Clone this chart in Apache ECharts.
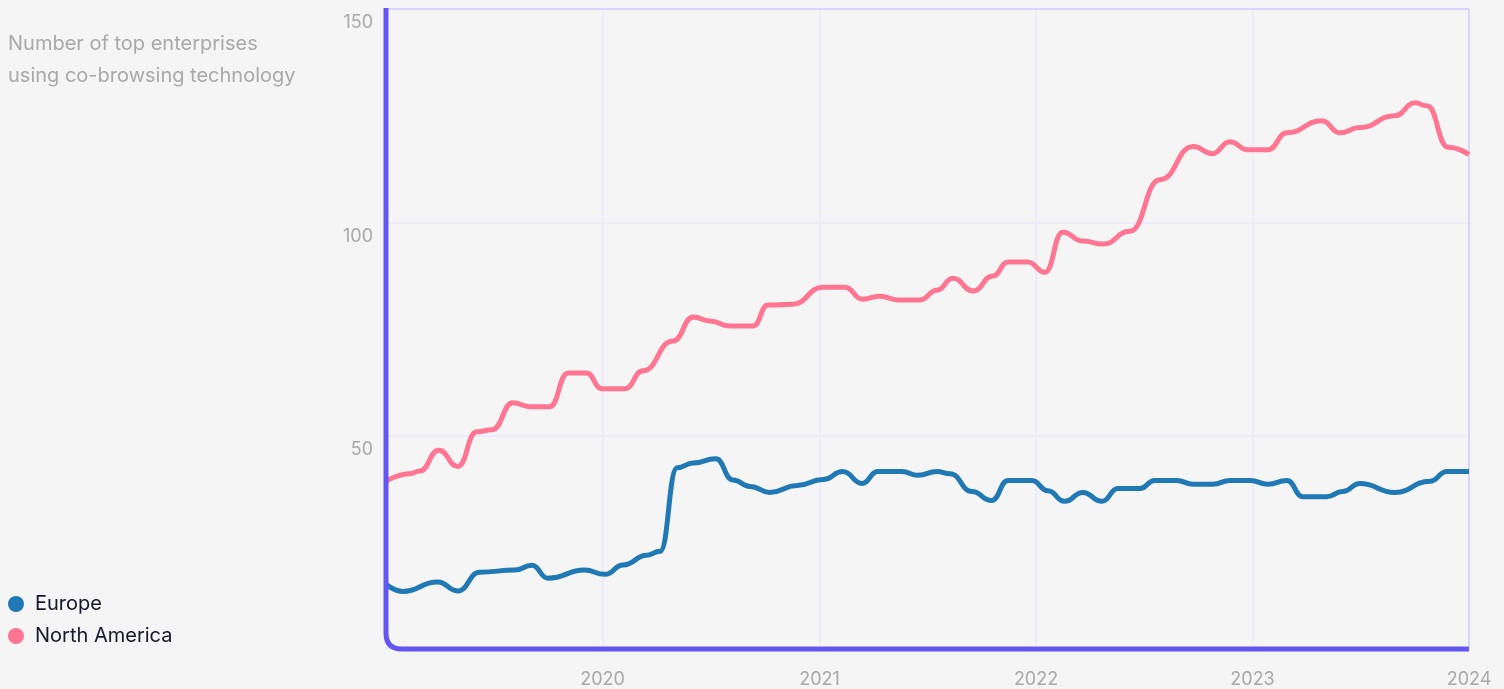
<!DOCTYPE html>
<html>
<head>
<meta charset="utf-8">
<script src="https://cdn.jsdelivr.net/npm/echarts@6/dist/echarts.min.js"></script>
<style>
  html, body { margin: 0; padding: 0; background: #f5f5f5; }
  #chart { width: 1504px; height: 689px; }
</style>
</head>
<body>
<div id="chart"></div>
<script>
// 数据：读图估计
const seriesNames = ['Europe', 'North America'];
const yTicks = [0, 50, 100, 150];

const europeDates = [
  '2019-01-01', '2019-01-29', '2019-03-29', '2019-05-02', '2019-06-08', '2019-08-06',
  '2019-09-04', '2019-10-01', '2019-12-02', '2020-01-05', '2020-02-05', '2020-03-16',
  '2020-04-07', '2020-05-06', '2020-06-02', '2020-07-10', '2020-08-08', '2020-09-06',
  '2020-10-09', '2020-11-24', '2021-01-07', '2021-02-09', '2021-03-14', '2021-04-09',
  '2021-05-20', '2021-06-16', '2021-07-18', '2021-08-09', '2021-09-15', '2021-10-18',
  '2021-11-15', '2021-12-25', '2022-01-21', '2022-02-18', '2022-03-21', '2022-04-22',
  '2022-05-19', '2022-06-25', '2022-07-20', '2022-08-26', '2022-09-23', '2022-10-26',
  '2022-11-24', '2022-12-28', '2023-01-27', '2023-02-28', '2023-03-27', '2023-05-06',
  '2023-06-02', '2023-07-01', '2023-08-29', '2023-10-27', '2023-11-25',
  '2024-01-01'
];
const europeValues = [
  15.2, 13.5, 15.7, 13.6, 18.0, 18.5,
  19.6, 16.6, 18.5, 17.5, 19.7, 22.0,
  22.9, 42.5, 43.6, 44.6, 39.6, 38.1,
  36.7, 38.3, 39.7, 41.6, 38.8, 41.6,
  41.6, 40.7, 41.6, 41.1, 36.9, 34.8,
  39.5, 39.5, 37.1, 34.6, 36.7, 34.6,
  37.6, 37.6, 39.5, 39.5, 38.6, 38.6,
  39.5, 39.5, 38.6, 39.5, 35.7, 35.7,
  36.9, 38.8, 36.7, 39.3, 41.6,
  41.6
];

const naDates = [
  '2019-01-01', '2019-02-10', '2019-02-27', '2019-03-31', '2019-05-02', '2019-06-03',
  '2019-06-29', '2019-08-03', '2019-09-01', '2019-10-04', '2019-11-04', '2019-12-05',
  '2019-12-31', '2020-02-08', '2020-03-09', '2020-04-29', '2020-06-02',
  '2020-06-30', '2020-08-03', '2020-09-11', '2020-10-06', '2020-11-16', '2021-01-07',
  '2021-02-13', '2021-03-14', '2021-04-13', '2021-05-13', '2021-06-19', '2021-07-18',
  '2021-08-14', '2021-09-17', '2021-10-20', '2021-11-15', '2021-12-18', '2022-01-16',
  '2022-02-15', '2022-03-21', '2022-04-24', '2022-06-08', '2022-07-29',
  '2022-09-23', '2022-10-25', '2022-11-24', '2022-12-24', '2023-01-27',
  '2023-02-28', '2023-04-28', '2023-05-28', '2023-07-01', '2023-08-29',
  '2023-10-02', '2023-10-22', '2023-11-27', '2024-01-01'
];
const naValues = [
  39.3, 41.1, 41.7, 46.6, 42.8, 50.9,
  51.4, 57.7, 56.8, 56.8, 64.7, 64.7,
  61.0, 61.0, 65.2, 72.2, 77.8,
  76.9, 75.7, 75.7, 80.6, 80.8, 84.8,
  84.8, 82.0, 82.7, 81.8, 81.8, 84.1,
  86.9, 83.9, 87.4, 90.7, 90.7, 88.3,
  97.7, 95.6, 94.9, 97.9, 110.0,
  117.8, 116.1, 118.9, 117.0, 117.0,
  121.0, 123.8, 121.0, 122.2, 125.0,
  128.0, 127.3, 117.6, 115.9
];

const europeData = europeDates.map((d, i) => [d, europeValues[i]]);
const naData = naDates.map((d, i) => [d, naValues[i]]);

const font = 'Inter, "Noto Sans", sans-serif';
const axisPurple = '#6457f1';
const gridLine = '#eeecfb';
const borderLine = '#d0ccfc';
const DAY = 24 * 3600 * 1000;

const chart = echarts.init(document.getElementById('chart'));
const option = {
  backgroundColor: '#f5f5f5',
  animation: false,
  title: {
    text: 'Number of top enterprises\nusing co-browsing technology',
    left: 8,
    top: 28,
    padding: 0,
    textStyle: {
      color: '#a9a9a9',
      fontFamily: font,
      fontSize: 20,
      fontWeight: 'normal',
      lineHeight: 32
    }
  },
  legend: {
    orient: 'vertical',
    left: 8,
    top: 594,
    padding: 0,
    icon: 'circle',
    itemWidth: 16,
    itemHeight: 16,
    itemGap: 12,
    data: seriesNames,
    textStyle: {
      color: '#16162e',
      fontFamily: font,
      fontSize: 20,
      padding: [0, 0, 0, 6]
    }
  },
  grid: {
    left: 386,
    right: 35,
    top: 9,
    bottom: 40,
    show: false,
    containLabel: false
  },
  xAxis: {
    type: 'time',
    min: '2019-01-01',
    max: '2024-01-01',
    minInterval: 365 * DAY,
    maxInterval: 366 * DAY,
    axisLine: { show: false },
    axisTick: { show: false },
    splitLine: { show: true, lineStyle: { color: gridLine, width: 2 } },
    axisLabel: {
      showMinLabel: false,
      showMaxLabel: true,
      margin: 22,
      color: '#a9a9a9',
      fontFamily: font,
      fontSize: 18,
      formatter: function (v) {
        const y = new Date(v).getFullYear();
        return y === 2019 ? '' : String(y);
      }
    }
  },
  yAxis: {
    type: 'value',
    min: yTicks[0],
    max: yTicks[yTicks.length - 1],
    interval: 50,
    axisLine: { show: false },
    axisTick: { show: false },
    splitLine: { show: true, lineStyle: { color: gridLine, width: 2 } },
    axisLabel: {
      showMinLabel: false,
      margin: 13,
      verticalAlign: 'top',
      padding: [5, 0, 0, 0],
      color: '#a9a9a9',
      fontFamily: font,
      fontSize: 18
    }
  },
  series: [
    {
      name: seriesNames[0],
      type: 'line',
      data: europeData,
      smooth: 0.5,
      smoothMonotone: 'x',
      showSymbol: false,
      symbol: 'circle',
      itemStyle: { color: '#2079b5' },
      lineStyle: { color: '#2079b5', width: 5 },
      z: 3
    },
    {
      name: seriesNames[1],
      type: 'line',
      data: naData,
      smooth: 0.5,
      smoothMonotone: 'x',
      showSymbol: false,
      symbol: 'circle',
      itemStyle: { color: '#ff7592' },
      lineStyle: { color: '#ff7592', width: 5 },
      z: 3
    }
  ]
};
chart.setOption(option);

// 边框：上、右细线；左下角圆角坐标轴线
function drawAxisFrame() {
  const tl = chart.convertToPixel({ gridIndex: 0 }, ['2019-01-01', 150]);
  const br = chart.convertToPixel({ gridIndex: 0 }, ['2024-01-01', 0]);
  const x0 = tl[0], y0 = tl[1], x1 = br[0], y1 = br[1];
  const r = 16;
  const st = { stroke: axisPurple, lineWidth: 5, fill: null };
  const thin = { stroke: borderLine, lineWidth: 1.5, fill: null };
  chart.setOption({
    graphic: [
      { type: 'line', z: 1, silent: true, shape: { x1: x0, y1: y0, x2: x1, y2: y0 }, style: thin },
      { type: 'line', z: 1, silent: true, shape: { x1: x1, y1: y0, x2: x1, y2: y1 }, style: thin },
      { type: 'line', z: 10, silent: true, shape: { x1: x0, y1: y0 - 1, x2: x0, y2: y1 - r }, style: st },
      { type: 'bezierCurve', z: 10, silent: true,
        shape: { x1: x0, y1: y1 - r, cpx1: x0, cpy1: y1, x2: x0 + r, y2: y1 }, style: st },
      { type: 'line', z: 10, silent: true, shape: { x1: x0 + r, y1: y1, x2: x1, y2: y1 }, style: st }
    ]
  });
}
drawAxisFrame();
</script>
</body>
</html>
